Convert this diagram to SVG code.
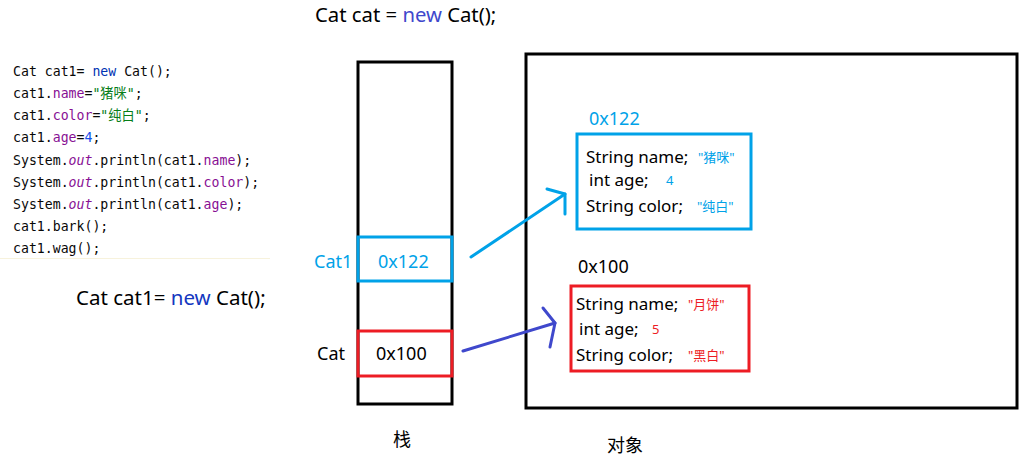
<svg xmlns="http://www.w3.org/2000/svg" width="1034" height="459" viewBox="0 0 1034 459">
<style>
.code{font-family:"DejaVu Sans Mono","Liberation Mono","Noto Sans CJK SC",monospace;font-size:13.2px;fill:#080808}
.kw{fill:#0033b3}.fd{fill:#871094}.st{fill:#067d17}.nm{fill:#1750eb}.it{fill:#871094;font-style:italic}
.lbl{font-family:"Noto Sans","Noto Sans CJK SC",sans-serif;fill:#000}
.big{font-size:18px}
.fld{font-size:17px}
.val{font-size:13px}
.blue{fill:#00a2e8}.red{fill:#ed1c24}
.box{fill:none;stroke-width:3}
.cn{fill:none;stroke-width:3;stroke-linecap:round;stroke-linejoin:round}
</style>
<rect width="1034" height="459" fill="#fff"/>
<g id="code">
<text class="code" x="13" y="76">Cat cat1= <tspan class="kw">new</tspan> Cat();</text>
<text class="code" x="13" y="98">cat1.<tspan class="fd">name</tspan>=<tspan class="st">"猪咪"</tspan>;</text>
<text class="code" x="13" y="120">cat1.<tspan class="fd">color</tspan>=<tspan class="st">"纯白"</tspan>;</text>
<text class="code" x="13" y="142">cat1.<tspan class="fd">age</tspan>=<tspan class="nm">4</tspan>;</text>
<text class="code" x="13" y="165">System.<tspan class="it">out</tspan>.println(cat1.<tspan class="fd">name</tspan>);</text>
<text class="code" x="13" y="187">System.<tspan class="it">out</tspan>.println(cat1.<tspan class="fd">color</tspan>);</text>
<text class="code" x="13" y="209">System.<tspan class="it">out</tspan>.println(cat1.<tspan class="fd">age</tspan>);</text>
<text class="code" x="13" y="231">cat1.bark();</text>
<text class="code" x="13" y="253">cat1.wag();</text>
<line x1="0" y1="258.5" x2="270" y2="258.5" stroke="#f7f2dc" stroke-width="1"/>
</g>
<g id="title">
<text class="lbl" x="315" y="21.5" font-size="20.3">Cat cat = <tspan fill="#3f48cc">new</tspan> Cat();</text>
</g>
<g id="decl">
<text class="lbl" x="76" y="305" font-size="20.5">Cat cat1= <tspan fill="#1438c0">new</tspan> Cat();</text>
</g>
<g id="stack">
<rect class="box" x="358" y="62" width="94" height="342" stroke="#000"/>
<text class="lbl big" x="393" y="446">栈</text>
</g>
<g id="cat1-ref">
<rect class="box" x="358" y="237" width="94" height="44" stroke="#00a2e8"/>
<text class="lbl big blue" x="314" y="268">Cat1</text>
<text class="lbl big blue" x="378" y="268">0x122</text>
</g>
<g id="cat-ref">
<rect class="box" x="358" y="331" width="94" height="45" stroke="#ed1c24"/>
<text class="lbl big" x="317" y="360">Cat</text>
<text class="lbl big" x="376" y="360">0x100</text>
</g>
<g id="heap">
<rect class="box" x="526" y="54" width="491" height="354" stroke="#000"/>
<text class="lbl big" x="607" y="452">对象</text>
</g>
<g id="obj-0x122">
<text class="lbl big blue" x="589" y="125">0x122</text>
<rect class="box" x="577" y="134" width="174" height="95" stroke="#00a2e8"/>
<text class="lbl fld" x="586" y="163">String name;</text>
<text class="lbl val blue" x="698" y="162">"猪咪"</text>
<text class="lbl fld" x="589" y="186">int age;</text>
<text class="lbl val blue" x="666" y="185">4</text>
<text class="lbl fld" x="586" y="212">String color;</text>
<text class="lbl val blue" x="697" y="211">"纯白"</text>
</g>
<g id="obj-0x100">
<text class="lbl big" x="578" y="273" font-size="19.5">0x100</text>
<rect class="box" x="571" y="286" width="178" height="85" stroke="#ed1c24"/>
<text class="lbl fld" x="576" y="310">String name;</text>
<text class="lbl val red" x="688" y="309">"月饼"</text>
<text class="lbl fld" x="579" y="335">int age;</text>
<text class="lbl val red" x="652" y="334">5</text>
<text class="lbl fld" x="576" y="361">String color;</text>
<text class="lbl val red" x="688" y="360">"黑白"</text>
</g>
<g id="connectors">
<polyline class="cn" stroke="#00a2e8" points="471,257 565,194"/>
<polyline class="cn" stroke="#00a2e8" points="547,189 565,194 565,214"/>
<polyline class="cn" stroke="#3f48cc" points="463,351 555,323"/>
<polyline class="cn" stroke="#3f48cc" points="543,308 555,323 550,347"/>
</g>
</svg>
